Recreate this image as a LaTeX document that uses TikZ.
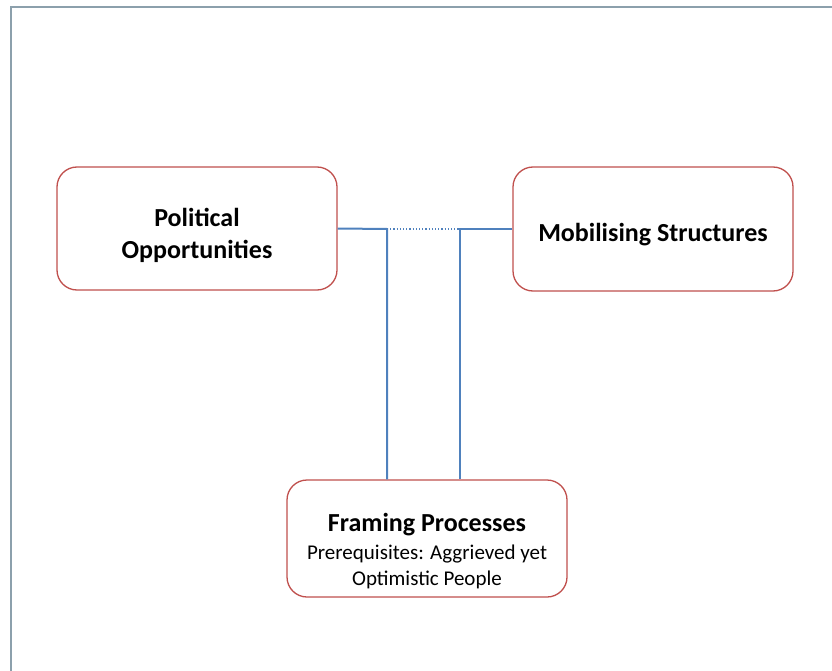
\documentclass[tikz,border=0pt]{standalone}
\usepackage{fontspec}
\setmainfont{Carlito}
\definecolor{boxred}{RGB}{192,80,77}
\definecolor{lineblue}{RGB}{79,129,189}
\definecolor{framegray}{RGB}{140,160,172}
\newcommand\lowerby[2]{\raisebox{-#1}[\height][\depth]{#2}}
\begin{document}
\begin{tikzpicture}[x=1pt,y=-1pt,
  box/.style={draw=boxred,line width=1.3pt,rounded corners=20pt,fill=white,align=center,inner sep=0pt},
  conn/.style={draw=lineblue,line width=2pt},
  dotconn/.style={draw=lineblue,line width=1.2pt,dotted}]
\useasboundingbox (0,0) rectangle (832,671);
\clip (0,0) rectangle (832,671);
\draw[framegray,line width=2pt] (11,7) rectangle (840,680);
\node[box,minimum width=280pt,minimum height=123pt,font=\bfseries\fontsize{26}{32}\selectfont] (po) at (197,228.5) {\lowerby{7pt}{Political}\\\lowerby{7pt}{Opportunities}};
\node[box,minimum width=280pt,minimum height=124pt,font=\bfseries\fontsize{26}{32}\selectfont] (ms) at (653,229) {\lowerby{6pt}{Mobilising Structures}};
\node[box,minimum width=280pt,minimum height=117pt,font=\fontsize{21}{26}\selectfont] (fp) at (427,538.5) {\lowerby{13pt}{\bfseries\fontsize{26}{32}\selectfont Framing Processes}\\[2pt]\lowerby{13pt}{Prerequisites: Aggrieved yet}\\\lowerby{13pt}{Optimistic People}};
\coordinate (j1) at (387,229);
\coordinate (j2) at (460,229);
\draw[conn] (po.east) -- (j1) -- (j1 |- fp.north);
\draw[conn] (ms.west) -- (j2) -- (j2 |- fp.north);
\draw[dotconn] (j1) -- (j2);
\end{tikzpicture}
\end{document}
